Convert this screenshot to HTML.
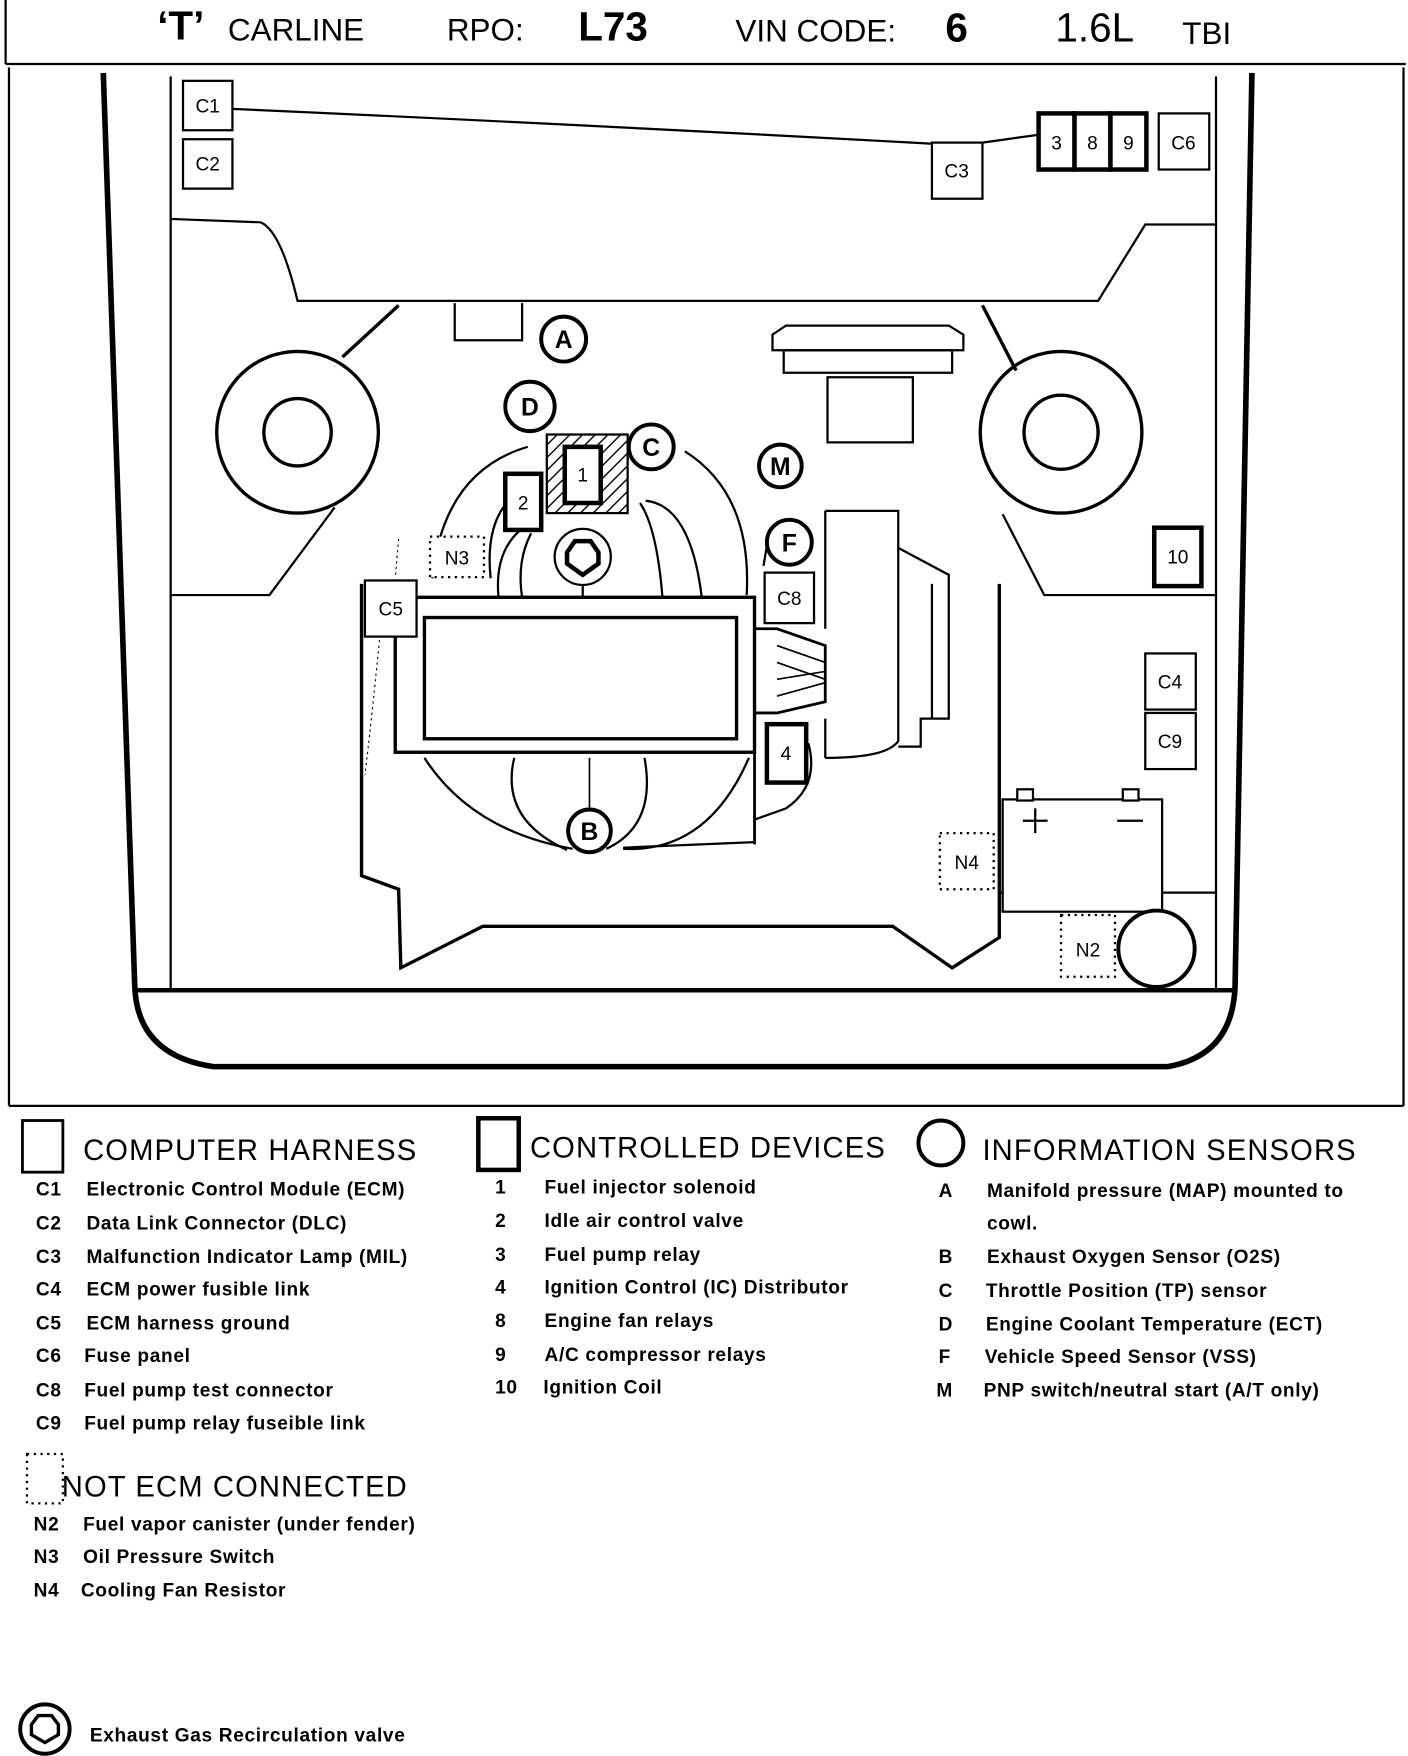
<!DOCTYPE html>
<html><head><meta charset="utf-8"><style>
html,body{margin:0;padding:0;background:#fff;}
svg{display:block;}
text{font-family:"Liberation Sans",sans-serif;fill:#000;}
</style></head><body>
<svg width="1408" height="1756" viewBox="0 0 1254 1564" preserveAspectRatio="none" xmlns="http://www.w3.org/2000/svg">
<defs>
<pattern id="h" width="8" height="8" patternUnits="userSpaceOnUse" patternTransform="rotate(45)"><line x1="0" y1="0" x2="0" y2="8" stroke="#000" stroke-width="2.5"/></pattern>
</defs>
<g fill="none" stroke="#000">
<line x1="5" y1="0" x2="5" y2="57" stroke-width="2"/>
<line x1="5" y1="57" x2="1252" y2="57" stroke-width="2"/>
<line x1="8" y1="60" x2="8" y2="985" stroke-width="2"/>
<line x1="8" y1="985" x2="1250" y2="985" stroke-width="2"/>
<line x1="1250" y1="60" x2="1250" y2="985" stroke-width="2"/>
<path d="M92,65 L120,878 Q122,940 190,950 L1040,950 Q1098,940 1100,878 L1115,65" stroke-width="5"/>
<line x1="120" y1="882" x2="1100" y2="882" stroke-width="4"/>
<line x1="152" y1="68" x2="152" y2="880" stroke-width="2"/>
<line x1="1083" y1="68" x2="1083" y2="880" stroke-width="2"/>
<path d="M152,195 L232,198 Q250,205 265,268 L978,268 L1020,200 L1083,200" stroke-width="2"/>
<path d="M207,97 Q500,110 830,128" stroke-width="2"/>
<line x1="875" y1="127" x2="925" y2="120" stroke-width="2"/>
<line x1="355" y1="272" x2="305" y2="318" stroke-width="3"/>
<circle cx="265" cy="385" r="72" stroke-width="3"/>
<circle cx="265" cy="385" r="30" stroke-width="3"/>
<path d="M152,530 L240,530 L298,452" stroke-width="2"/>
<line x1="875" y1="272" x2="905" y2="330" stroke-width="3"/>
<circle cx="945" cy="385" r="72" stroke-width="3"/>
<circle cx="945" cy="385" r="33" stroke-width="3"/>
<path d="M893,458 L930,530 L1083,530" stroke-width="2"/>
<path d="M322,520 L322,780 L355,792 L357,862 L430,825 L795,825 L848,862 L890,835 L890,520" stroke-width="3"/>
<line x1="890" y1="795" x2="1083" y2="795" stroke-width="2"/>
<path d="M405,270 L405,303 L465,303 L465,270" stroke-width="2"/>
<path d="M688,298 L700,290 L845,290 L858,298 L858,312 L688,312 Z" stroke-width="2"/>
<rect x="698" y="312" width="150" height="20" stroke-width="2"/>
<rect x="737" y="336" width="76" height="58" stroke-width="2"/>
<path d="M385,515 Q395,420 470,398" stroke-width="2"/>
<path d="M610,402 Q670,440 665,530" stroke-width="2"/>
<path d="M437,515 Q430,450 475,430" stroke-width="2"/>
<path d="M466,470 Q440,490 444,532" stroke-width="2"/>
<path d="M473,475 Q460,500 465,532" stroke-width="2"/>
<path d="M575,446 Q615,450 625,532" stroke-width="2"/>
<path d="M570,448 Q585,470 590,532" stroke-width="2"/>
<path d="M378,675 Q420,740 510,756" stroke-width="2"/>
<path d="M555,756 Q630,760 667,675" stroke-width="2"/>
<path d="M458,675 Q445,730 505,757" stroke-width="2"/>
<path d="M574,675 Q585,735 540,756" stroke-width="2"/>
<line x1="525" y1="675" x2="525" y2="720" stroke-width="1.5"/>
<line x1="555" y1="755" x2="672" y2="750" stroke-width="2"/>
<rect x="352" y="532" width="320" height="138" stroke-width="3"/>
<rect x="378" y="550" width="278" height="108" stroke-width="3"/>
<line x1="519" y1="520" x2="519" y2="532" stroke-width="2"/>
<path d="M672,532 L672,752 M672,560 L692,560 L735,575 L735,625 L692,635 L672,635" stroke-width="2.5"/>
<path d="M692,575 L735,590 M692,590 L735,605 M692,620 L735,608 M692,605 L735,598" stroke-width="1.5"/>
<path d="M735,455 L800,455 L800,660 Q790,675 735,675 M735,455 L735,560 M735,640 L735,675 M720,662 Q730,700 700,720 L672,730" stroke-width="2"/>
<path d="M800,488 L845,512 L845,640 L820,640 L820,665 L800,665 M830,520 L830,640" stroke-width="2"/>
<path d="M680,504 L684,480" stroke-width="2"/>
<path d="M355,480 L352,515 M338,570 Q330,650 325,690" stroke-width="1" stroke-dasharray="2,3"/>
</g>
<g fill="#fff" stroke="#000" stroke-width="2">
<rect x="163" y="72" width="44" height="44"/>
<rect x="163" y="124" width="44" height="44"/>
<rect x="830" y="127" width="45" height="50"/>
<rect x="1032" y="101" width="45" height="50"/>
<rect x="681" y="510" width="44" height="45"/>
<rect x="325" y="517" width="46" height="50"/>
<rect x="1020" y="582" width="45" height="50"/>
<rect x="1020" y="635" width="45" height="50"/>
<rect x="893" y="712" width="142" height="100"/>
<rect x="906" y="703" width="14" height="10"/>
<rect x="1000" y="703" width="14" height="10"/>
</g>
<g fill="#fff" stroke="#000" stroke-width="4">
<rect x="925" y="101" width="32" height="50"/>
<rect x="957" y="101" width="32" height="50"/>
<rect x="989" y="101" width="32" height="50"/>
<rect x="1028" y="470" width="42" height="52"/>
<rect x="683" y="645" width="35" height="52"/>
</g>
<rect x="487" y="387" width="72" height="70" fill="url(#h)" stroke="#000" stroke-width="2"/>
<rect x="503" y="398" width="32" height="50" fill="#fff" stroke="#000" stroke-width="4"/>
<rect x="450" y="422" width="32" height="50" fill="#fff" stroke="#000" stroke-width="4"/>
<g fill="#fff" stroke="#000" stroke-width="2" stroke-dasharray="2,4">
<rect x="383" y="478" width="48" height="36"/>
<rect x="837" y="742" width="48" height="50"/>
<rect x="945" y="815" width="48" height="55"/>
<rect x="24" y="1295" width="32" height="44"/>
</g>
<g fill="#fff" stroke="#000" stroke-width="3.5">
<circle cx="502" cy="302" r="20"/>
<circle cx="472" cy="362" r="22"/>
<circle cx="580" cy="398" r="20"/>
<circle cx="695" cy="415" r="19"/>
<circle cx="703" cy="483" r="20"/>
<circle cx="525" cy="740" r="19"/>
<circle cx="1030" cy="845" r="34"/>
<circle cx="838" cy="1018" r="20"/>
<circle cx="40" cy="1540" r="22"/>
</g>
<circle cx="519" cy="496" r="25" fill="#fff" stroke="#000" stroke-width="2"/>
<polygon points="512,482 526,482 533,492 533,502 519,512 505,502 505,492" fill="#fff" stroke="#000" stroke-width="4"/>
<polygon points="34,1528 46,1528 52,1536 52,1545 40,1552 28,1545 28,1536" fill="#fff" stroke="#000" stroke-width="3"/>
<rect x="20" y="998" width="36" height="46" fill="none" stroke="#000" stroke-width="2.5"/>
<rect x="426" y="996" width="36" height="46" fill="none" stroke="#000" stroke-width="4"/>
<path d="M922,720 L922,742 M911,731 L933,731 M995,731 L1018,731" stroke="#000" stroke-width="2"/>
<g font-size="17" text-anchor="middle">
<text x="185" y="100">C1</text><text x="185" y="152">C2</text><text x="852" y="158">C3</text>
<text x="941" y="133">3</text><text x="973" y="133">8</text><text x="1005" y="133">9</text><text x="1054" y="133">C6</text>
<text x="519" y="429">1</text><text x="466" y="454">2</text><text x="407" y="503">N3</text><text x="348" y="548">C5</text>
<text x="703" y="539">C8</text><text x="700" y="677">4</text><text x="1049" y="502">10</text>
<text x="1042" y="613">C4</text><text x="1042" y="666">C9</text><text x="861" y="774">N4</text><text x="969" y="852">N2</text>
</g>
<g font-size="22" font-weight="bold" text-anchor="middle">
<text x="502" y="310">A</text><text x="472" y="370">D</text><text x="580" y="406">C</text><text x="695" y="423">M</text><text x="703" y="491">F</text><text x="525" y="748">B</text>
</g>
<text x="140" y="35" font-size="36" font-weight="bold">‘T’</text>
<text x="203" y="36" font-size="28">CARLINE</text>
<text x="398" y="36" font-size="28">RPO:</text>
<text x="515" y="36" font-size="36" font-weight="bold">L73</text>
<text x="655" y="37" font-size="28">VIN CODE:</text>
<text x="842" y="37" font-size="36" font-weight="bold">6</text>
<text x="940" y="37" font-size="36">1.6L</text>
<text x="1053" y="39" font-size="28">TBI</text>
<g font-size="26" letter-spacing="1">
<text x="74" y="1033">COMPUTER HARNESS</text>
<text x="472" y="1031">CONTROLLED DEVICES</text>
<text x="875" y="1033">INFORMATION SENSORS</text>
<text x="55" y="1333">NOT ECM CONNECTED</text>
</g>
<g font-size="17" font-weight="bold" letter-spacing="0.6">
<text x="32" y="1065">C1</text><text x="77" y="1065">Electronic Control Module (ECM)</text>
<text x="32" y="1095">C2</text><text x="77" y="1095">Data Link Connector (DLC)</text>
<text x="32" y="1125">C3</text><text x="77" y="1125">Malfunction Indicator Lamp (MIL)</text>
<text x="32" y="1154">C4</text><text x="77" y="1154">ECM power fusible link</text>
<text x="32" y="1184">C5</text><text x="77" y="1184">ECM harness ground</text>
<text x="32" y="1213">C6</text><text x="75" y="1213">Fuse panel</text>
<text x="32" y="1244">C8</text><text x="75" y="1244">Fuel pump test connector</text>
<text x="32" y="1273">C9</text><text x="75" y="1273">Fuel pump relay fuseible link</text>
<text x="30" y="1363">N2</text><text x="74" y="1363">Fuel vapor canister  (under fender)</text>
<text x="30" y="1392">N3</text><text x="74" y="1392">Oil Pressure Switch</text>
<text x="30" y="1422">N4</text><text x="72" y="1422">Cooling Fan Resistor</text>
<text x="441" y="1063">1</text><text x="485" y="1063">Fuel injector solenoid</text>
<text x="441" y="1093">2</text><text x="485" y="1093">Idle air control valve</text>
<text x="441" y="1123">3</text><text x="485" y="1123">Fuel pump relay</text>
<text x="441" y="1152">4</text><text x="485" y="1152">Ignition Control (IC) Distributor</text>
<text x="441" y="1182">8</text><text x="485" y="1182">Engine fan relays</text>
<text x="441" y="1212">9</text><text x="485" y="1212">A/C compressor relays</text>
<text x="441" y="1241">10</text><text x="484" y="1241">Ignition Coil</text>
<text x="836" y="1066">A</text><text x="879" y="1066">Manifold pressure (MAP) mounted to</text>
<text x="879" y="1095">cowl.</text>
<text x="836" y="1125">B</text><text x="879" y="1125">Exhaust Oxygen Sensor (O2S)</text>
<text x="836" y="1155">C</text><text x="878" y="1155">Throttle Position (TP) sensor</text>
<text x="836" y="1185">D</text><text x="878" y="1185">Engine Coolant Temperature (ECT)</text>
<text x="836" y="1214">F</text><text x="877" y="1214">Vehicle Speed Sensor (VSS)</text>
<text x="834" y="1244">M</text><text x="876" y="1244">PNP switch/neutral start (A/T only)</text>
<text x="80" y="1551">Exhaust Gas Recirculation valve</text>
</g>
</svg>
</body></html>
